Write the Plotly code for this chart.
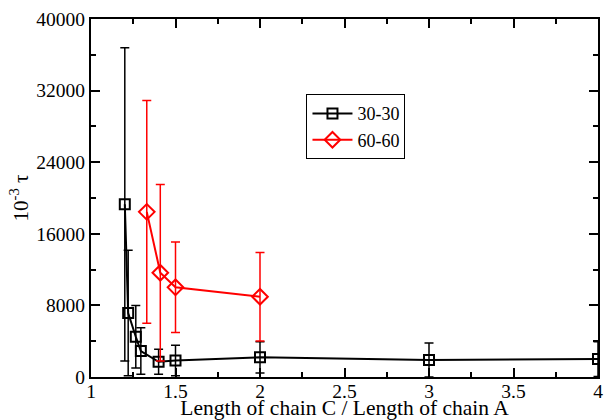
import plotly.graph_objects as go

x_30 = [1.2, 1.22, 1.265, 1.295, 1.4, 1.5, 2.0, 3.0, 4.0]
y_30 = [19300, 7150, 4500, 2900, 1700, 1850, 2200, 1900, 2000]
e_30 = [17500, 7000, 3500, 2600, 1400, 1700, 1750, 1900, 1950]

x_60 = [1.33, 1.41, 1.5, 2.0]
y_60 = [18450, 11650, 10020, 8970]
e_60 = [12450, 9850, 5050, 4950]

ff = "Liberation Serif"

fig = go.Figure()
fig.add_trace(go.Scatter(
    x=x_30, y=y_30, name="30-30", mode="lines+markers",
    line=dict(color="black", width=2),
    marker=dict(symbol="square-open", size=10, color="black", line=dict(width=2)),
    error_y=dict(type="data", array=e_30, visible=True, color="black", thickness=1.5, width=4.5),
))
fig.add_trace(go.Scatter(
    x=x_60, y=y_60, name="60-60", mode="lines+markers",
    line=dict(color="red", width=2),
    marker=dict(symbol="diamond-open", size=12, color="red", line=dict(width=2)),
    error_y=dict(type="data", array=e_60, visible=True, color="red", thickness=1.5, width=4.5),
))

fig.update_layout(
    width=605, height=420,
    margin=dict(l=91, r=7, t=19, b=43),
    paper_bgcolor="white", plot_bgcolor="white",
    font=dict(family=ff, size=19, color="black"),
    showlegend=True,
    legend=dict(x=0.425, y=0.79, xanchor="left", yanchor="top",
                bordercolor="black", borderwidth=1, bgcolor="white",
                font=dict(family=ff, size=18, color="black"), tracegroupgap=0, itemwidth=40),
    xaxis=dict(range=[1, 4], dtick=0.5, tick0=1, showline=True, linecolor="black", linewidth=2,
               mirror="allticks", ticks="inside", ticklen=9, tickwidth=2, tickcolor="black",
               showgrid=False, zeroline=False, ticklabeloverflow="allow", automargin=False,
               ticklabelstandoff=-4,
               tickfont=dict(family=ff, size=19.5, color="black"),
               minor=dict(dtick=0.25, ticks="inside", ticklen=5, tickwidth=1.5, tickcolor="black"),
               title=dict(text="Length of chain C / Length of chain A",
                          font=dict(family=ff, size=21.5, color="black"), standoff=4)),
    yaxis=dict(range=[0, 40000], dtick=8000, tick0=0, showline=True, linecolor="black", linewidth=2,
               mirror="allticks", ticks="inside", ticklen=9, tickwidth=2, tickcolor="black",
               showgrid=False, zeroline=False, tickformat="d", ticklabeloverflow="allow", automargin=False,
               tickfont=dict(family=ff, size=19.5, color="black"),
               minor=dict(dtick=4000, ticks="inside", ticklen=5, tickwidth=1.5, tickcolor="black"),
               title=dict(text="10<sup>-3</sup> τ", font=dict(family=ff, size=21, color="black"), standoff=2)),
)

fig.write_html("out.html", config={"displayModeBar": False},
               post_script="document.body.style.margin='0px';document.body.style.overflow='hidden';")
